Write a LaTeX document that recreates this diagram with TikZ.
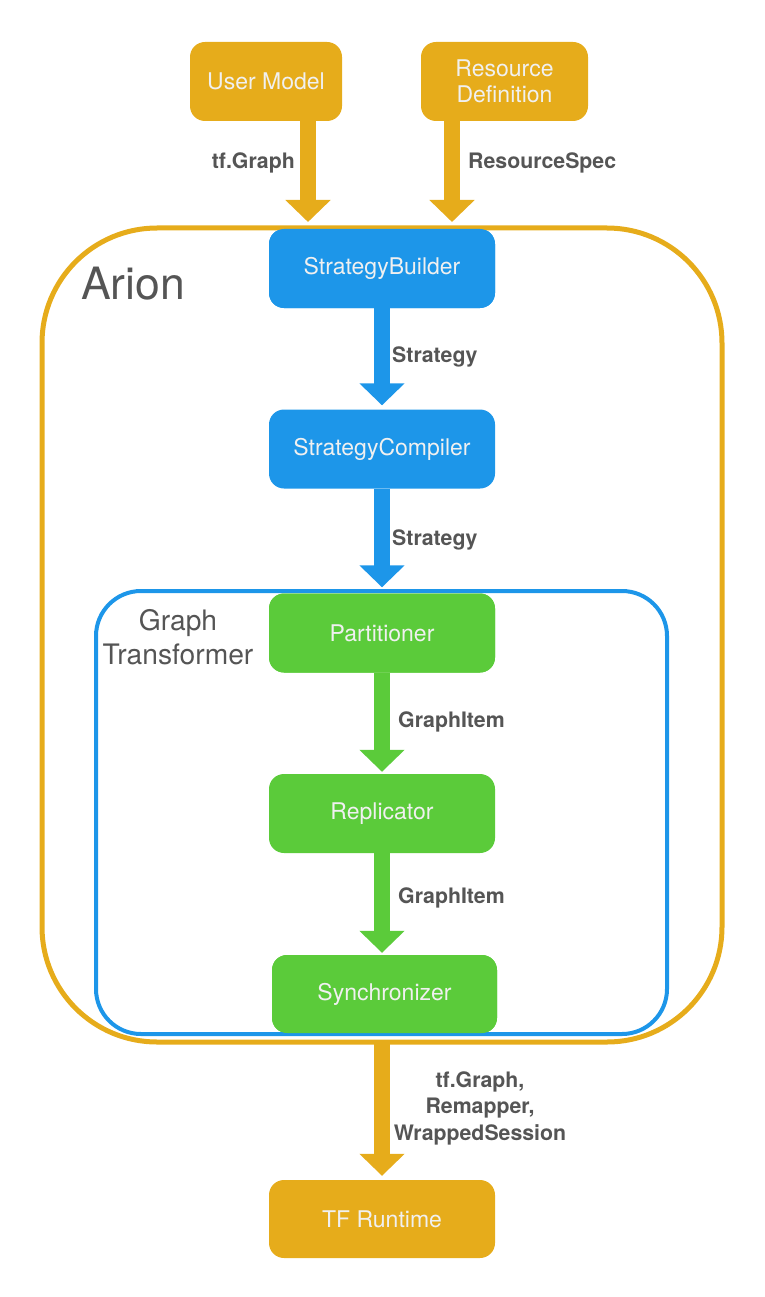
\documentclass[tikz,border=0pt]{standalone}
\usepackage{fontspec}
\setmainfont{TeX Gyre Heros}
\usetikzlibrary{arrows.meta}
\definecolor{aorange}{HTML}{E6AC1B}
\definecolor{ablue}{HTML}{1D96E9}
\definecolor{agreen}{HTML}{5BCB3A}
\definecolor{alabel}{HTML}{555555}
\definecolor{atext}{HTML}{F0F0F0}
\tikzset{
  box/.style={rounded corners=15pt, minimum width=226pt, minimum height=79pt, inner sep=0pt,
    text=atext, align=center, font=\fontsize{23}{26}\selectfont},
  obox/.style={box, fill=aorange},
  bbox/.style={box, fill=ablue},
  gbox/.style={box, fill=agreen},
  flow/.style={line width=16.5pt, -{Triangle[width=44pt,length=22pt]}},
  lbl/.style={text=alabel, font=\bfseries\fontsize{21.3}{26.5}\selectfont, inner sep=0pt, align=center},
}
\begin{document}
\begin{tikzpicture}[x=1pt,y=-1pt]
\useasboundingbox (0,0) rectangle (764,1297);
% connectors first
\coordinate (t1) at (308,222);
\coordinate (t2) at (452,222);
\coordinate (b0) at (382,1044);
\node[obox, minimum width=152pt] (um) at (266,81.5) {User Model};
\node[obox, minimum width=167pt] (rd) at (504.5,81.5) {Resource\\Definition};
\node[bbox] (sb) at (382,268.5) {StrategyBuilder};
\node[bbox] (sc) at (382,449) {StrategyCompiler};
\node[gbox] (pa) at (382,633) {Partitioner};
\node[gbox] (re) at (382,813.5) {Replicator};
\node[gbox, minimum width=225pt, minimum height=78pt] (sy) at (384.5,994) {Synchronizer};
\node[obox, minimum height=78pt] (tf) at (382,1219) {TF Runtime};

\draw[flow, aorange] (um.south -| t1) -- (t1);
\draw[flow, aorange] (rd.south -| t2) -- (t2);
\draw[flow, ablue, shorten >=4pt] (sb.south) -- (sc.north);
\draw[flow, ablue, shorten >=6pt] (sc.south) -- (pa.north);
\draw[flow, agreen, shorten >=2pt] (pa.south) -- (re.north);
\draw[flow, agreen, shorten >=2pt] (re.south) -- (sy.north -| re.south);
\draw[flow, aorange, shorten >=4pt] (b0) -- (tf.north);

% containers
\draw[aorange, line width=5pt, rounded corners=115pt] (42,228) rectangle (722,1042);
\draw[ablue, line width=4pt, rounded corners=45pt] (96,591) rectangle (667,1034);

% nodes redrawn on top of container lines
\node[bbox] at (sb) {StrategyBuilder};
\node[gbox] at (pa) {Partitioner};
\node[gbox, minimum width=225pt, minimum height=78pt] at (sy) {Synchronizer};

% labels
\node[lbl, anchor=east] (l1) at (295,163) {tf.Graph};
\node[lbl, anchor=west] (l2) at (468,163) {ResourceSpec};
\node[lbl, anchor=west] (l3) at (392,357) {Strategy};
\node[lbl, anchor=west] (l4) at (392,540) {Strategy};
\node[lbl, anchor=west] (l5) at (398,722) {GraphItem};
\node[lbl, anchor=west] (l6) at (398,898) {GraphItem};
\node[lbl] (l7) at (480,1108) {tf.Graph,\\Remapper,\\WrappedSession};

\node[text=alabel, font=\fontsize{44.5}{48}\selectfont, anchor=west, inner sep=0pt] (arion) at (81,284) {Arion};
\node[text=alabel, font=\fontsize{28.2}{34}\selectfont, align=center, inner sep=0pt] (gt) at (178,637) {Graph\\Transformer};
\end{tikzpicture}
\end{document}
